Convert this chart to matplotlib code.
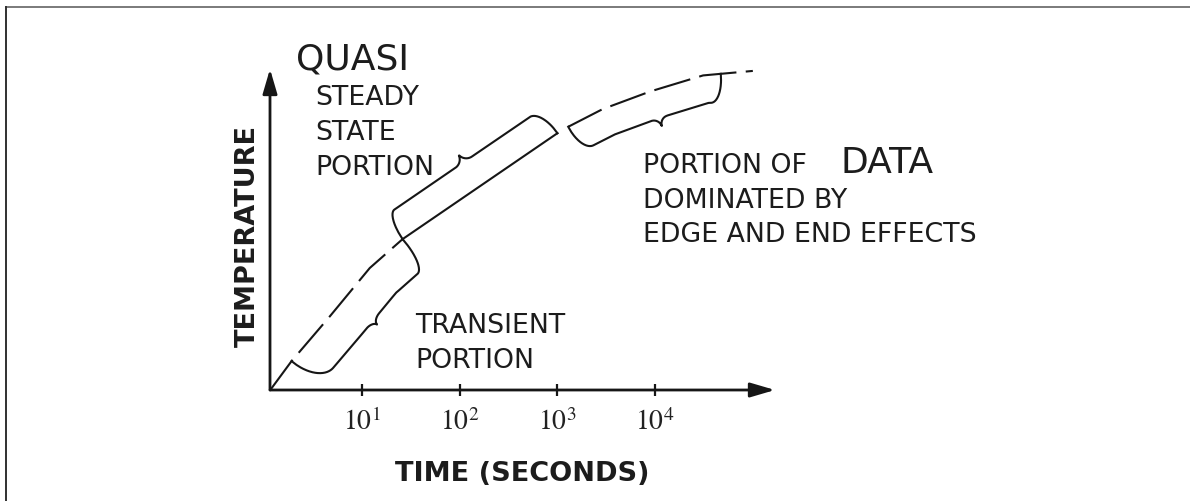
import numpy as np
import matplotlib
matplotlib.use("Agg")
import matplotlib.pyplot as plt
from matplotlib.lines import Line2D
from matplotlib.ticker import NullLocator

# ---------------- data ----------------
time_s = [1.15, 1.9, 4.7, 12.0, 26.0, 1000.0, 1290.0, 2900.0, 8900.0, 31000.0, 100000.0]
temperature = [0.0, 9.0, 23.0, 38.0, 47.0, 80.0, 82.0, 87.5, 93.0, 98.0, 99.4]
tick_times = [10, 100, 1000, 10000]
tick_labels = [r"$10^{1}$", r"$10^{2}$", r"$10^{3}$", r"$10^{4}$"]
transient_span = (1.9, 26.0)
steady_span = (26.0, 1000.0)
edge_span = (1290.0, 47000.0)

# ---------------- style ----------------
plt.rcParams["font.family"] = ["DejaVu Sans"]
plt.rcParams["mathtext.fontset"] = "stix"
INK = "#161616"
W, H = 1190, 502

fig = plt.figure(figsize=(W / 100, H / 100), dpi=100)
fig.patch.set_facecolor("white")

# axes placed so origin sits at px (270, 391), x-arrow tip at 775, y-arrow tip at 70
ox, oy, ex, ey = 270, 391, 775, 70
ax = fig.add_axes([ox / W, (H - oy) / H, (ex - ox) / W, (oy - ey) / H])
ax.set_xscale("log")
ax.set_xlim(10 ** 0.058, 10 ** 5.227)
ax.set_ylim(0, 100)
for s in ax.spines.values():
    s.set_visible(False)
ax.set_facecolor("none")

# axes drawn as arrows
arrow_kw = dict(arrowstyle="-|>,head_length=0.75,head_width=0.22", lw=2.0,
                color=INK, mutation_scale=20, shrinkA=0, shrinkB=0)
ax.annotate("", xy=(1, 0), xytext=(0, 0), xycoords="axes fraction", arrowprops=arrow_kw)
ax.annotate("", xy=(0, 1), xytext=(0, 0), xycoords="axes fraction", arrowprops=arrow_kw)

ax.set_xticks(tick_times)
ax.set_xticklabels(tick_labels, fontsize=20, color="#222222")
ax.xaxis.set_minor_locator(NullLocator())
ax.set_yticks([])
ax.tick_params(axis="x", direction="inout", length=8, width=1.6, color=INK, pad=8)

# ---------------- curve ----------------
t = np.array(time_s)
T = np.array(temperature)
i_steady0 = time_s.index(steady_span[0])
i_steady1 = time_s.index(steady_span[1])
i_edge0 = time_s.index(edge_span[0])
dash = (0, (18, 4.5))
ax.plot(t[: i_steady0 + 1], T[: i_steady0 + 1], color=INK, lw=1.5, linestyle=dash,
        solid_capstyle="butt", dash_capstyle="butt", clip_on=False)
ax.plot(t[i_steady0: i_steady1 + 1], T[i_steady0: i_steady1 + 1], color=INK, lw=1.5, clip_on=False)
ax.plot(t[i_edge0:], T[i_edge0:], color=INK, lw=1.5, linestyle=dash,
        dash_capstyle="butt", clip_on=False)


# ---------------- curly braces along the curve ----------------
def draw_brace(t0, t1, side, depth, tip, notch, r0, r1, w=10):
    lt = np.linspace(np.log10(t0), np.log10(t1), 500)
    Tv = np.interp(lt, np.log10(t), T)
    P = ax.transData.transform(np.column_stack([10 ** lt, Tv]))
    seg = np.hypot(*np.diff(P, axis=0).T)
    L = np.concatenate([[0], np.cumsum(seg)])
    tan = np.gradient(P, axis=0)
    tan /= np.hypot(tan[:, 0], tan[:, 1])[:, None]
    k = 41
    pad = np.pad(tan, ((k // 2, k // 2), (0, 0)), mode="edge")
    ker = np.ones(k) / k
    tan = np.column_stack([np.convolve(pad[:, 0], ker, "valid"),
                           np.convolve(pad[:, 1], ker, "valid")])
    tan /= np.hypot(tan[:, 0], tan[:, 1])[:, None]
    nrm = np.column_stack([tan[:, 1], -tan[:, 0]]) * side
    h = np.full_like(L, float(depth))
    a = L < r0
    h[a] = depth * np.sqrt(np.clip(1 - (1 - L[a] / r0) ** 2, 0, 1))
    b = L > L[-1] - r1
    h[b] = depth * np.sqrt(np.clip(1 - (1 - (L[-1] - L[b]) / r1) ** 2, 0, 1))
    m = notch * L[-1]
    c = np.abs(L - m) < w
    dd = np.abs(L[c] - m) / w
    h[c] = depth + tip * (1 - np.sqrt(np.clip(1 - (1 - dd) ** 2, 0, 1)))
    Q = P + nrm * h[:, None]
    D = ax.transData.inverted().transform(Q)
    ax.plot(D[:, 0], D[:, 1], color=INK, lw=1.5, clip_on=False)


draw_brace(*transient_span, side=1, depth=36, tip=6, notch=0.5, r0=22, r1=12)
draw_brace(*steady_span, side=-1, depth=29, tip=10, notch=0.5, r0=10, r1=14)
draw_brace(*edge_span, side=1, depth=28, tip=9, notch=0.55, r0=14, r1=12)


# ---------------- text ----------------
def px(xp, yp):
    return (xp - ox) / (ex - ox), (oy - yp) / (oy - ey)


def label(xp, yp, s, size=19.3, **kw):
    ax.text(*px(xp, yp), s, transform=ax.transAxes, fontsize=size, color="#1c1c1c",
            ha="left", va="baseline", **kw)


label(296, 70, "QUASI", size=26)
label(315, 105, "STEADY")
label(315, 140, "STATE")
label(315, 175, "PORTION")
label(415, 333, "TRANSIENT")
label(415, 368, "PORTION")
label(643, 173, "PORTION OF")
label(840, 173, "DATA", size=26)
label(643, 208, "DOMINATED BY")
label(643, 242, "EDGE AND END EFFECTS")

ax.text(*px(522, 481), "TIME (SECONDS)", transform=ax.transAxes, fontsize=19.5,
        fontweight="bold", color="#1c1c1c", ha="center", va="baseline")
ax.text(*px(247.5, 236), "TEMPERATURE", transform=ax.transAxes, fontsize=19.5,
        fontweight="bold", color="#1c1c1c", ha="center", va="center", rotation=90)

# ---------------- frame lines of the original figure ----------------
fig.add_artist(Line2D([6 / W, 1], [1 - 8 / H, 1 - 8 / H], transform=fig.transFigure,
                      color="#7a7a7a", lw=1.4))
fig.add_artist(Line2D([6 / W, 6 / W], [0, 1 - 8 / H], transform=fig.transFigure,
                      color="#303030", lw=1.4))

fig.savefig("out.png", dpi=100, facecolor="white")
